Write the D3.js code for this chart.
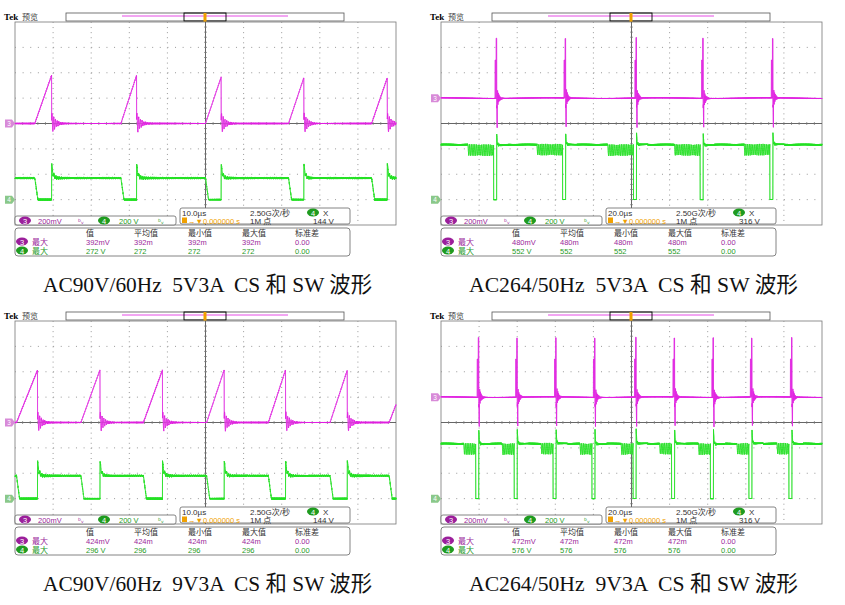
<!DOCTYPE html>
<html><head><meta charset="utf-8">
<script src="https://cdn.jsdelivr.net/npm/d3@7/dist/d3.min.js"></script>
<style>body{margin:0;background:#fff}svg{display:block}text{white-space:pre}</style></head>
<body><svg id="c" width="845" height="605"></svg>
<script>
// ---- data ----
const captions = ["AC90V/60Hz  5V3A  CS 和 SW 波形","AC264/50Hz  5V3A  CS 和 SW 波形","AC90V/60Hz  9V3A  CS 和 SW 波形","AC264/50Hz  9V3A  CS 和 SW 波形"];
const timePerDiv = [10,20,10,20];            // µs/div
const timeLabels = ["10.0µs","20.0µs","10.0µs","20.0µs"];
const triggerLevels = ["144 V","316 V","144 V","316 V"];
const waveTypes = ["ramp","spike","ramp","spike"];
const ch3Offset = [0,1,0,1];                   // div
const ch4Offset = [-3,-3,-3,-3];               // div
// panel 1 (ramp): on-time start/end (µs), CS peak (mV)
const p1Start = [-44.8,-22.2,0,21.8,43.6];
const p1End   = [-40.4,-18.1,4.1,25.8,47.7];
const p1Peak  = [380,378,365,360,360];
const p1SwHigh = 170, p1SwSpike = 280;
// panel 3 (ramp)
const p3Start = [-49.6,-32.7,-16.3,0.3,16.5,32.7,48.2];
const p3End   = [-44.1,-27.7,-11.3,4.9,21,37.2,53.5];
const p3Peak  = [412,414,414,414,414,412,414];
const p3SwHigh = 180, p3SwSpike = 294;
// panel 2 (spike): switching instants (µs), CS spike peak (mV)
const p2Times = [-70.8,-34.6,2.6,37.6,74.2];
const p2Peak  = [472,470,478,472,470];
const p2SwHigh = 433, p2SwSpike = 532, p2RingLen = 15;
// panel 4 (spike)
const p4Times = [-80.2,-60,-39.6,-19.2,2.4,22.6,43,63.2,84.2];
const p4Peak  = [470,465,468,465,472,466,468,465,470];
const p4SwHigh = 433, p4SwSpike = 560, p4RingLen = 8;
// measurements
const measCh3 = ["392mV","480mV","424mV","472mV"];
const measCh3s = ["392m","480m","424m","472m"];
const measCh4 = ["272 V","552 V","296 V","576 V"];
const measCh4s = ["272","552","296","576"];
const measHeaders = ["值","平均值","最小值","最大值","标准差"];

const panelData = [
  {start:p1Start,end:p1End,peak:p1Peak,hi:p1SwHigh,sp:p1SwSpike},
  {times:p2Times,peak:p2Peak,hi:p2SwHigh,sp:p2SwSpike,ring:p2RingLen},
  {start:p3Start,end:p3End,peak:p3Peak,hi:p3SwHigh,sp:p3SwSpike},
  {times:p4Times,peak:p4Peak,hi:p4SwHigh,sp:p4SwSpike,ring:p4RingLen}
];
const origins = [[0,0],[426,0],[0,299],[426,299]];

const MAG="#e01ee0", MAGL="#e884e8", GRN="#22e022", GRNL="#7ee87e", PTXT="#9b1f9b", GTXT="#1f9b1f", ORG="#f0a000";
const svg = d3.select("#c");
const jit = t => Math.sin(t*913.7)*0.6+Math.sin(t*377.1)*0.4; // texture

function chSig(d,type,span){
  const step = span/4000, cs=[], sw=[];
  for(let t=-span/2;t<=span/2;t+=step){
    let v3 = 6*jit(t), v4 = d.hi + 9*jit(t*1.3);
    if(type==="ramp"){
      d.start.forEach((s,i)=>{
        const e=d.end[i];
        if(t>=s&&t<=e){v3=d.peak[i]*(t-s)/(e-s)+4*jit(t); v4=9*jit(t)+ (t-s<0.8? d.hi*(1-(t-s)/0.8):0);}
        if(t>e&&t<e+6){const k=t-e; v3+=90*Math.exp(-k/1.0)*Math.sin(k*2*Math.PI/0.45);
          v4 = d.hi+(d.sp-d.hi)*Math.exp(-k/0.35)+20*Math.exp(-k/1.5)*Math.sin(k*2*Math.PI/0.5)+9*jit(t);}
      });
    } else {
      d.times.forEach((tp,i)=>{
        const k=t-tp;
        if(k>=-0.8&&k<-0.5) v3=300;
        if(k>=-0.25&&k<0) v3=d.peak[i];
        if(k>=0&&k<6) v3+= (k<0.3?-150:0)+110*Math.exp(-k/0.9)*Math.sin(k*2*Math.PI/0.4);
        if(k>=-d.ring&&k<-1.6) v4 = 392 + 42*Math.sin(k*2*Math.PI/0.9)+6*jit(t);
        if(k>=-1.6&&k<0) v4 = 4*jit(t);
        if(k>=0&&k<6) v4 = d.hi+(d.sp-d.hi)*Math.exp(-k/0.25)+15*Math.exp(-k/1.5)*Math.sin(k*2*Math.PI/0.6)+9*jit(t);
      });
    }
    cs.push([t,v3]); sw.push([t,v4]);
  }
  return {cs,sw};
}

function badge(g,x,y,txt,col){
  g.append("ellipse").attr("cx",x).attr("cy",y).attr("rx",6).attr("ry",4).attr("fill",col);
  g.append("text").attr("x",x).attr("y",y+3).attr("text-anchor","middle").attr("fill","#fff").attr("font-size",7.5).attr("font-family","Liberation Sans").text(txt);
}

origins.forEach(([ox,oy],p)=>{
  const g = svg.append("g").attr("transform",`translate(${ox},${oy})`);
  const gl=15,gr=396,gt=22,gb=225,gc=(gt+gb)/2,dh=(gb-gt)/8;
  const span = timePerDiv[p]*10;
  const x = d3.scaleLinear().domain([-span/2,span/2]).range([gl,gr]);
  const y3 = d3.scaleLinear().domain([(-4-ch3Offset[p])*200,(4-ch3Offset[p])*200]).range([gb,gt]);
  const y4 = d3.scaleLinear().domain([(-4-ch4Offset[p])*200,(4-ch4Offset[p])*200]).range([gb,gt]);
  // header
  g.append("text").attr("x",4).attr("y",20).attr("font-family","Liberation Serif").attr("font-weight","bold").attr("font-size",9).text("Tek");
  g.append("text").attr("x",22).attr("y",20).attr("font-family","Noto Sans CJK SC").attr("font-size",8).attr("fill","#444").text("预览");
  g.append("rect").attr("x",66).attr("y",13).attr("width",278).attr("height",8).attr("fill","#fff").attr("stroke","#555").attr("stroke-width",0.8);
  g.append("line").attr("x1",122).attr("x2",288).attr("y1",16).attr("y2",16).attr("stroke",MAG).attr("stroke-width",0.8);
  g.append("rect").attr("x",184).attr("y",13).attr("width",42).attr("height",8).attr("fill","none").attr("stroke","#000").attr("stroke-width",0.9);
  g.append("rect").attr("x",203.5).attr("y",13).attr("width",3).attr("height",9).attr("fill",ORG);
  g.append("rect").attr("x",201.5).attr("y",24).attr("width",7).attr("height",8).attr("rx",1.5).attr("fill",ORG);
  g.append("text").attr("x",205).attr("y",31).attr("text-anchor","middle").attr("font-size",7).attr("fill","#fff").attr("font-family","Liberation Sans").text("T");
  // grid
  g.append("rect").attr("x",gl).attr("y",gt).attr("width",gr-gl).attr("height",gb-gt).attr("fill","#fff").attr("stroke","#777").attr("stroke-width",0.8);
  const xt = d3.range(-span/2+timePerDiv[p],span/2,timePerDiv[p]);
  const dx=(gr-gl)/10;
  g.selectAll(null).data(xt).join("line").attr("x1",d=>x(d)).attr("x2",d=>x(d)).attr("y1",gt).attr("y2",gb)
    .attr("stroke",d=>Math.abs(d)<1e-6?"#555":"#999").attr("stroke-width",d=>Math.abs(d)<1e-6?0.9:1).attr("stroke-dasharray",d=>Math.abs(d)<1e-6?null:`1,${dh/5-1}`);
  g.selectAll(null).data(d3.range(1,8)).join("line").attr("x1",gl).attr("x2",gr).attr("y1",d=>gt+d*dh).attr("y2",d=>gt+d*dh)
    .attr("stroke",d=>d===4?"#555":"#999").attr("stroke-width",d=>d===4?0.9:1).attr("stroke-dasharray",d=>d===4?null:`1,${dx/5-1}`);
  // center axis minor ticks
  g.selectAll(null).data(d3.range(1,50)).join("line").attr("x1",d=>gl+d*dx/5).attr("x2",d=>gl+d*dx/5).attr("y1",gc-1.5).attr("y2",gc+1.5).attr("stroke","#777").attr("stroke-width",0.7);
  g.selectAll(null).data(d3.range(1,40)).join("line").attr("y1",d=>gt+d*dh/5).attr("y2",d=>gt+d*dh/5).attr("x1",x(0)-1.5).attr("x2",x(0)+1.5).attr("stroke","#777").attr("stroke-width",0.7);
  // traces
  const sig = chSig(panelData[p],waveTypes[p],span);
  const l3 = d3.line().x(d=>x(d[0])).y(d=>y3(d[1]));
  const l4 = d3.line().x(d=>x(d[0])).y(d=>y4(d[1]));
  g.append("path").attr("d",l3(sig.cs)).attr("fill","none").attr("stroke",MAGL).attr("stroke-width",0.8);
  g.append("path").attr("d",l3(sig.cs)).attr("fill","none").attr("stroke",MAG).attr("stroke-width",0.9).attr("opacity",0.8);
  g.append("path").attr("d",l4(sig.sw)).attr("fill","none").attr("stroke",GRNL).attr("stroke-width",0.8);
  g.append("path").attr("d",l4(sig.sw)).attr("fill","none").attr("stroke",GRN).attr("stroke-width",1).attr("opacity",0.85);
  // channel tabs
  [[y3(0),"#d88ad8","3"],[y4(0),"#8ac88a","4"]].forEach(([yy,c,t])=>{
    g.append("path").attr("d",`M5,${yy-4}h7l3,4l-3,4h-7z`).attr("fill",c);
    g.append("text").attr("x",9).attr("y",yy+2.5).attr("text-anchor","middle").attr("font-size",6.5).attr("fill","#fff").attr("font-family","Liberation Sans").text(t);
  });
  // lower-left scale box
  g.append("rect").attr("x",15).attr("y",216).attr("width",161).attr("height",9).attr("rx",2).attr("fill","#fff").attr("stroke","#666").attr("stroke-width",0.8);
  badge(g,25,220.5,"3","#9b1f9b");
  g.append("text").attr("x",38).attr("y",223.5).attr("font-size",7.5).attr("fill",PTXT).attr("font-family","Liberation Sans").text("200mV");
  g.append("text").attr("x",78).attr("y",223.5).attr("font-size",7).attr("fill",PTXT).attr("font-family","DejaVu Sans").text("ᵇᵥ");
  badge(g,104,220.5,"4","#1f9b1f");
  g.append("text").attr("x",119).attr("y",223.5).attr("font-size",7.5).attr("fill",GTXT).attr("font-family","Liberation Sans").text("200 V");
  g.append("text").attr("x",158).attr("y",223.5).attr("font-size",7).attr("fill",GTXT).attr("font-family","DejaVu Sans").text("ᵇᵥ");
  // timebase box
  g.append("rect").attr("x",180).attr("y",208).attr("width",170).attr("height",16).attr("rx",2).attr("fill","#fff").attr("stroke","#666").attr("stroke-width",0.8);
  const tf = {"font-size":8,"font-family":"Liberation Sans, Noto Sans CJK SC"};
  const T=(xx,yy,s,c)=>{const e=g.append("text").attr("x",xx).attr("y",yy).attr("fill",c).text(s);Object.entries(tf).forEach(([k,v])=>e.attr(k,v));return e;};
  T(182,215.5,timeLabels[p],"#333");
  T(250,215.5,"2.50G次/秒","#333");
  badge(g,313,212.5,"4","#1f9b1f");
  T(323,215.5,"X","#333");
  g.append("rect").attr("x",182).attr("y",217.5).attr("width",5).attr("height",5.5).attr("fill",ORG);
  T(188,223.5,"→▼0.000000 s",ORG).attr("font-size",7.5);
  T(250,223.5,"1M 点","#333");
  T(313,223.5,triggerLevels[p],"#333");
  // measurement box
  g.append("rect").attr("x",15).attr("y",228).attr("width",335).attr("height",28).attr("rx",3).attr("fill","#fff").attr("stroke","#666").attr("stroke-width",0.8);
  const cols=[86,134,188,242,295];
  measHeaders.forEach((h,i)=>T(cols[i],236,h,"#333"));
  badge(g,22,241.5,"3","#9b1f9b"); badge(g,22,250.5,"4","#1f9b1f");
  T(32,245,"最大",PTXT); T(32,254,"最大",GTXT);
  [measCh3[p],measCh3s[p],measCh3s[p],measCh3s[p],"0.00"].forEach((v,i)=>T(cols[i],244.5,v,PTXT).attr("font-size",7.5));
  [measCh4[p],measCh4s[p],measCh4s[p],measCh4s[p],"0.00"].forEach((v,i)=>T(cols[i],253.5,v,GTXT).attr("font-size",7.5));
  // caption
  g.append("text").attr("x",43).attr("y",292).attr("font-family","Liberation Serif, Noto Sans CJK SC").attr("font-size",22)
    .attr("textLength",329).attr("lengthAdjust","spacingAndGlyphs").attr("fill","#111").text(captions[p]);
});
</script></body></html>
